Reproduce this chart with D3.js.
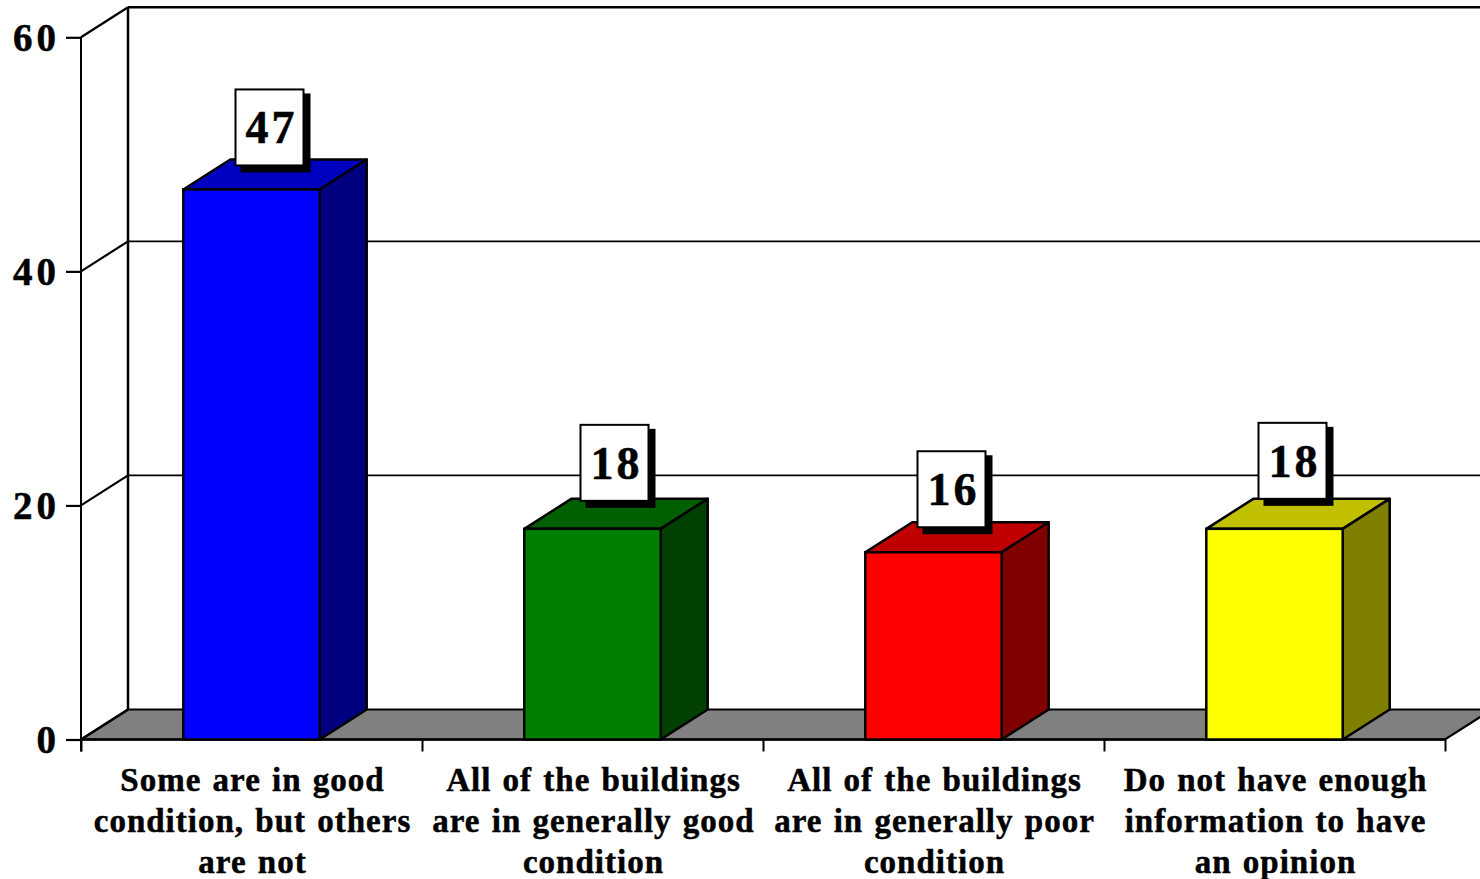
<!DOCTYPE html>
<html><head><meta charset="utf-8">
<script src="https://cdn.jsdelivr.net/npm/d3@7/dist/d3.min.js"></script>
<style>
html,body{margin:0;padding:0;background:#fff;overflow:hidden}
svg{display:block}
text{font-family:"Liberation Serif","Times New Roman",serif;font-weight:700;fill:#000;stroke:#000;stroke-width:.5px}
</style></head><body>
<svg id="c" width="1480" height="879"></svg>
<script>
const categories = [
  ["Some are in good","condition, but others","are not"],
  ["All of the buildings","are in generally good","condition"],
  ["All of the buildings","are in generally poor","condition"],
  ["Do not have enough","information to have","an opinion"]
];
const values = [47, 18, 16, 18];
const yTicks = [0, 20, 40, 60];
const frontColors = ["#0000ff","#008000","#ff0000","#ffff00"];
const sideColors  = ["#000080","#004000","#800000","#808000"];
const topColors   = ["#0000c0","#006000","#c00000","#c0c000"];
const labelGaps = [24, 28, 25, 30];
const labelShifts = [18, 22, 18, 18];

const W=1480,H=879, L=81,R=1445, Y0=739.5,Y60=37.3, DX=47,DY=-30;
const svg=d3.select("#c");
const y=d3.scaleLinear().domain([0,60]).range([Y0,Y60]);
const x=d3.scaleBand().domain(d3.range(4)).range([L,R]).paddingInner(0.6).paddingOuter(0.3);
const edges=d3.scaleLinear().domain([0,4]).range([L,R]);
const poly=p=>p.map(q=>q.join(",")).join(" ");

// floor
svg.append("polygon").attr("points",poly([[L,Y0],[L+DX,Y0+DY],[R+DX,Y0+DY],[R,Y0]]))
  .attr("fill","#808080").attr("stroke","#000").attr("stroke-width",2.2);
// back wall lines
svg.append("line").attr("x1",L+DX).attr("x2",L+DX).attr("y1",y(60)+DY).attr("y2",Y0+DY).attr("stroke","#000").attr("stroke-width",2.5);
yTicks.filter(d=>d>0).forEach(d=>{
  svg.append("line").attr("x1",L+DX).attr("x2",W).attr("y1",y(d)+DY).attr("y2",y(d)+DY).attr("stroke","#000").attr("stroke-width",d==60?2.5:1.8);
});
yTicks.forEach(d=>{
  svg.append("line").attr("x1",L).attr("x2",L+DX).attr("y1",y(d)).attr("y2",y(d)+DY).attr("stroke","#000").attr("stroke-width",2.2);
});

// axes
const ay=svg.append("g").attr("transform",`translate(${L},0)`)
  .call(d3.axisLeft(y).tickValues(yTicks).tickSize(15).tickPadding(6).tickFormat(d3.format("d")));
ay.select(".domain").attr("d",`M0,${y(60)}V${Y0+12}`).attr("stroke","#000").attr("stroke-width",2);
ay.selectAll(".tick line").attr("stroke","#000").attr("stroke-width",2.2);
ay.selectAll("text").attr("font-size",39).attr("dy","0.34em").style("letter-spacing","4px").attr("font-family",null);

const ax=svg.append("g").attr("transform",`translate(0,${Y0})`)
  .call(d3.axisBottom(edges).ticks(4).tickSize(12).tickFormat(""));
ax.select(".domain").attr("d",`M${L},0H${R}`).attr("stroke","#000").attr("stroke-width",2.5);
ax.selectAll(".tick line").attr("stroke","#000").attr("stroke-width",2);

// bars
const bars=svg.append("g").selectAll("g").data(values).join("g");
bars.append("polygon").attr("fill",(d,i)=>topColors[i]).attr("stroke","#000").attr("stroke-width",2.5)
  .attr("stroke-linejoin","round")
  .attr("points",(d,i)=>{const a=x(i),b=a+x.bandwidth(),t=y(d);return poly([[a,t],[a+DX,t+DY],[b+DX,t+DY],[b,t]]);});
bars.append("polygon").attr("fill",(d,i)=>sideColors[i]).attr("stroke","#000").attr("stroke-width",2.5)
  .attr("stroke-linejoin","round")
  .attr("points",(d,i)=>{const b=x(i)+x.bandwidth(),t=y(d);return poly([[b,t],[b+DX,t+DY],[b+DX,Y0+DY],[b,Y0]]);});
bars.append("rect").attr("fill",(d,i)=>frontColors[i]).attr("stroke","#000").attr("stroke-width",2.5)
  .attr("x",(d,i)=>x(i)).attr("width",x.bandwidth()).attr("y",d=>y(d)).attr("height",d=>Y0-y(d));

// value labels
const BW=68,BH=76;
const lab=svg.append("g").selectAll("g").data(values).join("g")
  .attr("transform",(d,i)=>`translate(${x(i)+x.bandwidth()/2+labelShifts[i]-BW/2},${y(d)-labelGaps[i]-BH})`);
lab.append("rect").attr("x",5).attr("y",4).attr("width",BW+2).attr("height",BH+3).attr("fill","#000");
lab.append("rect").attr("width",BW).attr("height",BH).attr("fill","#fff").attr("stroke","#000").attr("stroke-width",2);
lab.append("text").attr("x",BW/2+2).attr("y",BH/2+16).attr("text-anchor","middle").attr("font-size",46).style("letter-spacing","3px").text(d=>d);

// category labels
const cat=svg.append("g").selectAll("text").data(categories).join("text")
  .attr("text-anchor","middle").attr("font-size",33).style("letter-spacing","1px").style("word-spacing","2px");
cat.each(function(lines,i){
  d3.select(this).selectAll("tspan").data(lines).join("tspan")
    .attr("x",x(i)+x.bandwidth()/2+1).attr("y",(d,j)=>791+j*41).text(d=>d);
});
</script>
</body></html>
